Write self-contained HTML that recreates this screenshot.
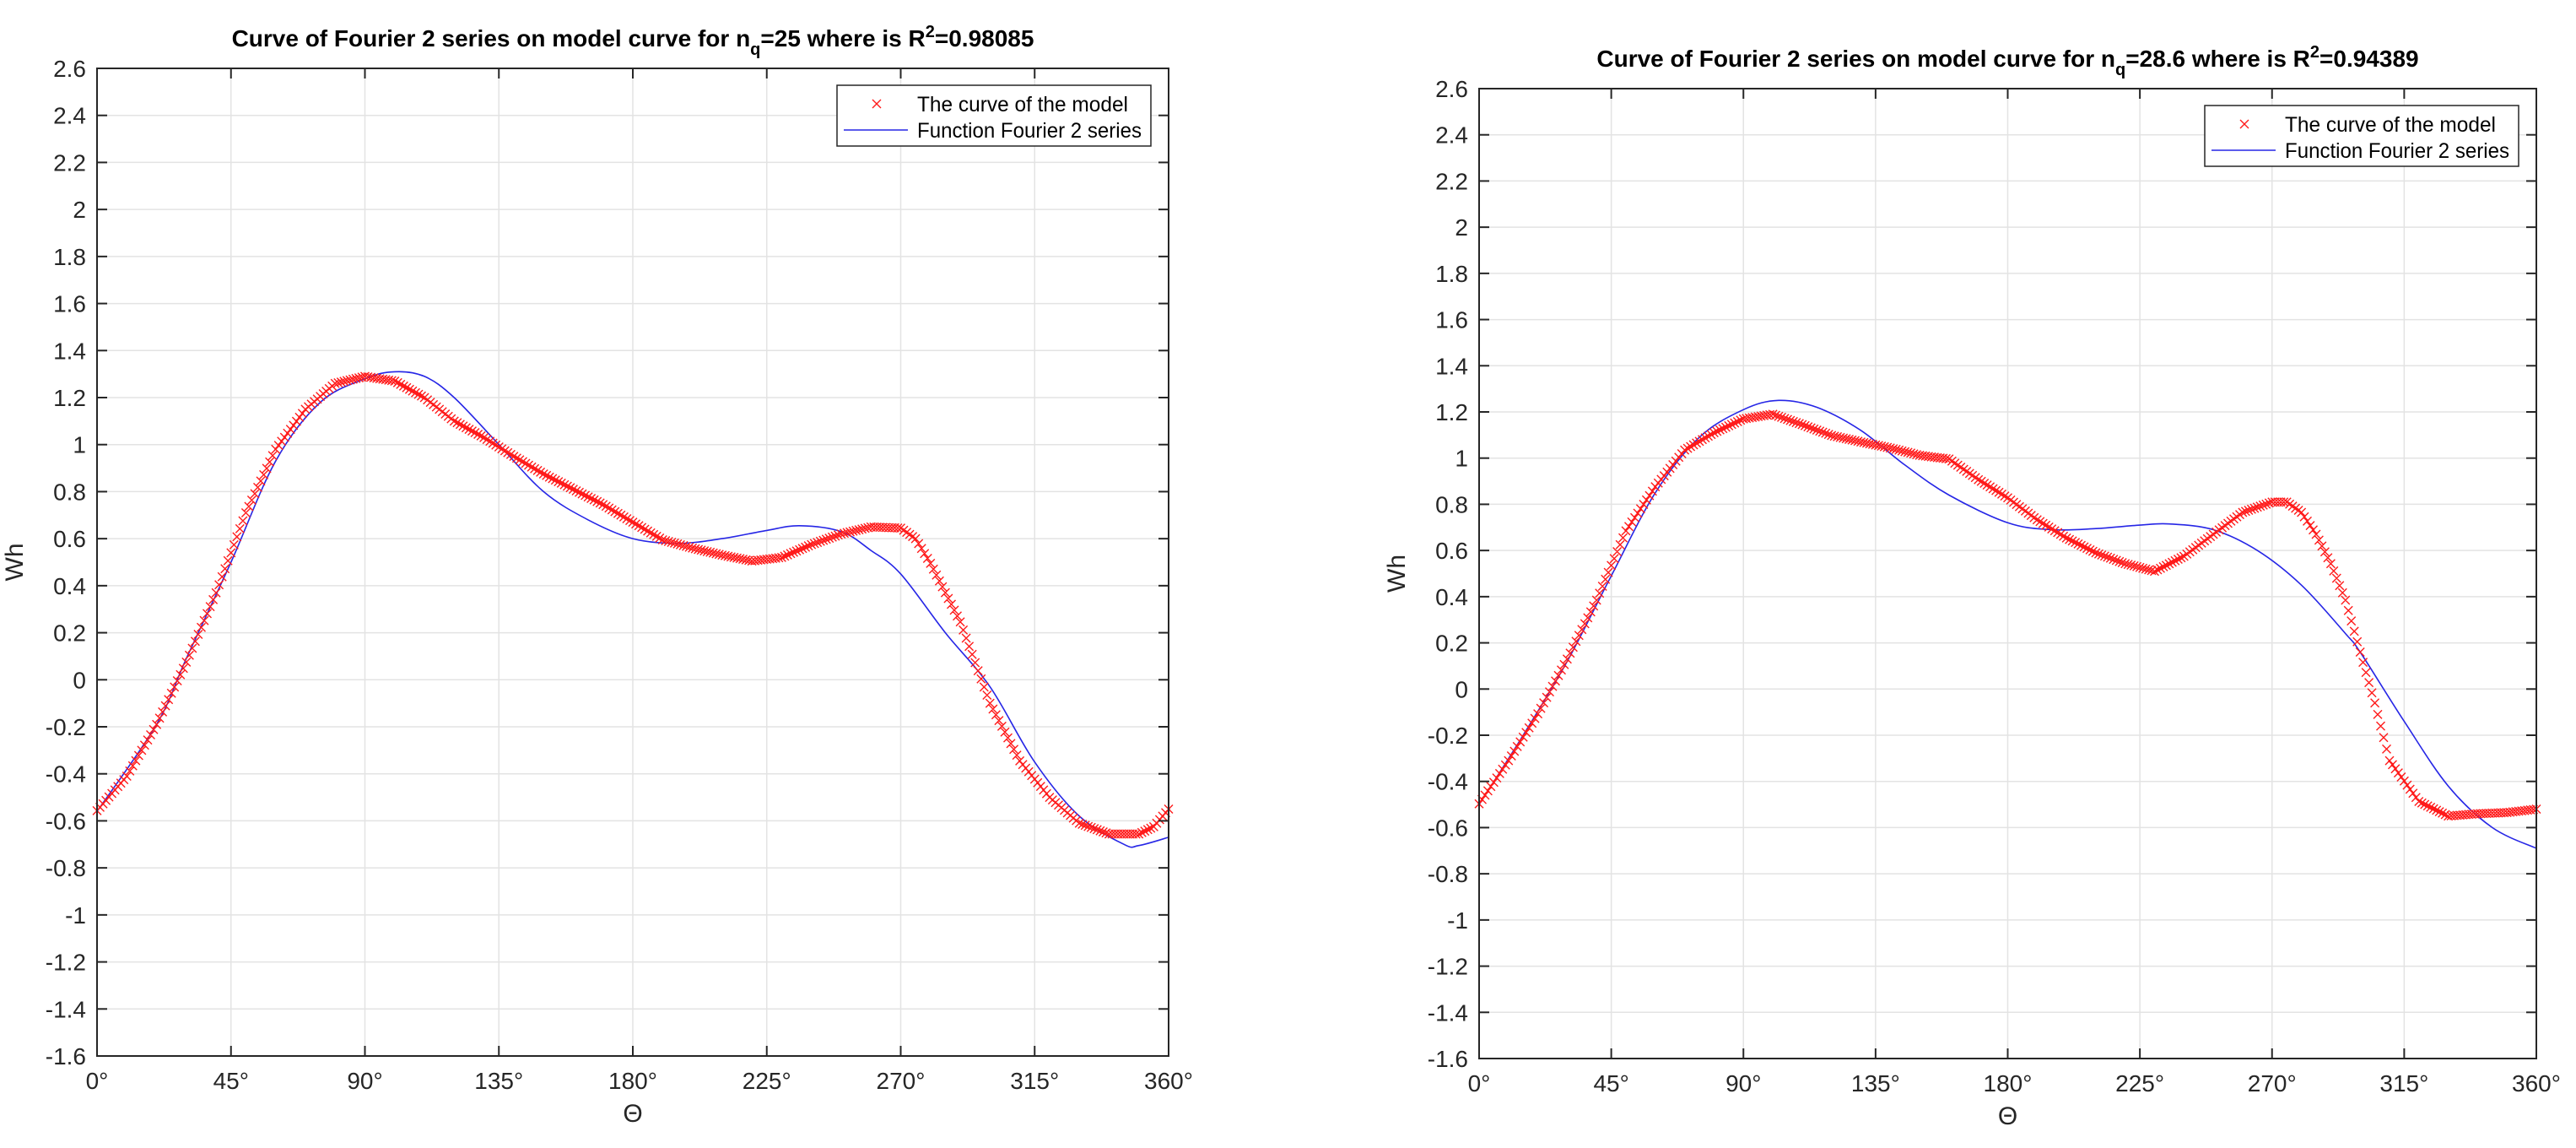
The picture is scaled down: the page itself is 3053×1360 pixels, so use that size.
<!DOCTYPE html>
<html><head><meta charset="utf-8"><style>
html,body{margin:0;padding:0;background:#fff;}
svg{display:block;font-family:"Liberation Sans",Arial,sans-serif;}
</style></head><body>
<svg id="fig" width="3053" height="1360" viewBox="0 0 3053 1360" xmlns="http://www.w3.org/2000/svg"></svg>
<script>
// ---- data: left chart (nq = 25) ----
const leftModelDeg = [0,10,20,30,40,50,60,70,80,90,100,110,120,130,140,150,160,170,180,190,200,210,220,230,240,250,260,270,275,280,290,300,310,320,330,340,350,355,360];
const leftModelVal = [-0.557,-0.41,-0.19,0.075,0.37,0.71,0.98,1.15,1.26,1.29,1.27,1.2,1.1,1.03,0.95,0.875,0.81,0.745,0.67,0.595,0.56,0.53,0.505,0.52,0.575,0.62,0.65,0.645,0.6,0.495,0.246,-0.1,-0.345,-0.5,-0.61,-0.656,-0.656,-0.625,-0.55];
const leftFitDeg = [0,20,30,45,60,75,90,100,110,120,135,150,165,180,195,210,225,236,250,260,270,285,300,315,330,345,350,360];
const leftFitVal = [-0.56,-0.19,0.09,0.5,0.93,1.18,1.28,1.31,1.29,1.2,1.0,0.8,0.68,0.6,0.58,0.6,0.635,0.655,0.63,0.55,0.45,0.2,-0.03,-0.35,-0.58,-0.7,-0.705,-0.67];
// ---- data: right chart (nq = 28.6) ----
const rightModelDeg = [0,10,20,30,40,50,60,70,80,90,100,110,120,130,140,150,160,170,180,190,200,210,220,230,240,250,260,270,275,280,285,290,295,300,305,310,320,330,340,350,360];
const rightModelVal = [-0.497,-0.31,-0.107,0.13,0.385,0.685,0.876,1.035,1.11,1.17,1.19,1.145,1.098,1.07,1.044,1.012,0.996,0.907,0.828,0.733,0.654,0.59,0.543,0.51,0.575,0.67,0.765,0.81,0.81,0.765,0.67,0.543,0.385,0.16,-0.06,-0.31,-0.487,-0.55,-0.54,-0.535,-0.52];
const rightFitDeg = [0,15,30,45,60,75,90,102,115,130,145,160,180,195,210,225,235,250,265,280,295,300,315,330,345,360];
const rightFitVal = [-0.5,-0.2,0.12,0.49,0.85,1.09,1.21,1.25,1.22,1.12,0.97,0.84,0.72,0.69,0.695,0.71,0.715,0.69,0.6,0.45,0.24,0.16,-0.14,-0.42,-0.6,-0.69];
// ---- tick labels ----
const xTicks = [0,45,90,135,180,225,270,315,360];
const yTicks = [2.6,2.4,2.2,2,1.8,1.6,1.4,1.2,1,0.8,0.6,0.4,0.2,0,-0.2,-0.4,-0.6,-0.8,-1,-1.2,-1.4,-1.6];
const legendLabels = ["The curve of the model","Function Fourier 2 series"];

const NS="http://www.w3.org/2000/svg";
const svg=document.getElementById('fig');
function mk(tag,attrs,parent){const e=document.createElementNS(NS,tag);for(const k in attrs)e.setAttribute(k,attrs[k]);(parent||svg).appendChild(e);return e;}

function smoothPath(p){
  let d=`M${p[0][0].toFixed(1)} ${p[0][1].toFixed(1)}`;
  for(let i=0;i<p.length-1;i++){
    const p0=p[Math.max(0,i-1)],p1=p[i],p2=p[i+1],p3=p[Math.min(p.length-1,i+2)];
    const c1=[p1[0]+(p2[0]-p0[0])/6,p1[1]+(p2[1]-p0[1])/6];
    const c2=[p2[0]-(p3[0]-p1[0])/6,p2[1]-(p3[1]-p1[1])/6];
    d+=`C${c1[0].toFixed(1)} ${c1[1].toFixed(1)} ${c2[0].toFixed(1)} ${c2[1].toFixed(1)} ${p2[0].toFixed(1)} ${p2[1].toFixed(1)}`;
  }
  return d;
}

function drawChart(cfg){
  const g=mk('g',{});
  
  
  const L=cfg.L,R=cfg.R,T=cfg.T,B=cfg.B;
  const xs=d=>L+(d-0)/(360-0)*(R-L);
  const ys=v=>T+(2.6-v)/(2.6-(-1.6))*(B-T);
  xTicks.forEach(t=>{const l=mk('line',{x1:xs(t),x2:xs(t),y1:T,y2:B,stroke:'#e3e3e3','stroke-width':1.5},g);
    });
  yTicks.forEach(t=>{const l=mk('line',{x1:L,x2:R,y1:ys(t),y2:ys(t),stroke:'#e3e3e3','stroke-width':1.5},g);
    });
  const fpts=cfg.fitDeg.map((d,i)=>[xs(d),ys(cfg.fitVal[i])]);
  const fl=mk('path',{d:smoothPath(fpts),fill:'none',stroke:'#2626e6','stroke-width':1.6,'stroke-linejoin':'round'},g);
  
  
  const mg=mk('g',{stroke:'#ff1a1a','stroke-width':1.4,fill:'none'},g);
  
  
  let pts='';
  const s=5;
  const addX=(x,y)=>{pts+=`M${(x-s).toFixed(1)} ${(y-s).toFixed(1)}L${(x+s).toFixed(1)} ${(y+s).toFixed(1)}M${(x-s).toFixed(1)} ${(y+s).toFixed(1)}L${(x+s).toFixed(1)} ${(y-s).toFixed(1)}`;};
  for(let i=0;i<cfg.modelDeg.length;i++){
    const x0=xs(cfg.modelDeg[i]),y0=ys(cfg.modelVal[i]);
    addX(x0,y0);
    if(i<cfg.modelDeg.length-1){
      const x1=xs(cfg.modelDeg[i+1]),y1=ys(cfg.modelVal[i+1]);
      const n=Math.max(1,Math.round((cfg.modelDeg[i+1]-cfg.modelDeg[i])));
      for(let k=1;k<n;k++){addX(x0+(x1-x0)*k/n,y0+(y1-y0)*k/n);}
    }
  }
  mk('path',{d:pts},mg);
  const box=mk('rect',{x:L,y:T,width:R-L,height:B-T,fill:'none',stroke:'#262626','stroke-width':2},g);
  
  
  xTicks.forEach(t=>{
    mk('line',{x1:xs(t),x2:xs(t),y1:B,y2:B-12,stroke:'#262626','stroke-width':2},g);
    mk('line',{x1:xs(t),x2:xs(t),y1:T,y2:T+12,stroke:'#262626','stroke-width':2},g);
    const tx=mk('text',{x:xs(t),y:B+39,'font-size':28,fill:'#262626','text-anchor':'middle'},g);
    tx.textContent=t+'°';
    
    
  });
  yTicks.forEach(t=>{
    mk('line',{x1:L,x2:L+12,y1:ys(t),y2:ys(t),stroke:'#262626','stroke-width':2},g);
    mk('line',{x1:R,x2:R-12,y1:ys(t),y2:ys(t),stroke:'#262626','stroke-width':2},g);
    const ty=mk('text',{x:L-13,y:ys(t)+10,'font-size':28,fill:'#262626','text-anchor':'end'},g);
    ty.textContent=String(t);
    
    
  });
  const xt=mk('text',{x:(L+R)/2,y:B+78,'font-size':30,fill:'#262626','text-anchor':'middle'},g);
  xt.textContent='Θ';
  
  
  const yx=L-88,yy=(T+B)/2;
  const yt=mk('text',{x:yx,y:yy,'font-size':30,fill:'#262626','text-anchor':'middle',transform:`rotate(-90 ${yx} ${yy})`},g);
  yt.textContent='Wh';
  
  
  const ti=mk('text',{x:(L+R)/2,y:T-26,'font-size':28,'font-weight':'bold',fill:'#000','text-anchor':'middle'},g);
  
  
  const t1=mk('tspan',{},ti);t1.textContent='Curve of Fourier 2 series on model curve for n';
  const t2=mk('tspan',{dy:10,'font-size':20},ti);t2.textContent='q';
  const t3=mk('tspan',{dy:-10},ti);t3.textContent='='+cfg.nq+' where is R';
  const t4=mk('tspan',{dy:-11,'font-size':20},ti);t4.textContent='2';
  const t5=mk('tspan',{dy:11},ti);t5.textContent='='+cfg.r2;
  const lw=372,lh=72,lx=R-21-lw,ly=T+20;
  const lg=mk('g',{},g);
  
  
  mk('rect',{x:lx,y:ly,width:lw,height:lh,fill:'#fff',stroke:'#262626','stroke-width':1.5},lg);
  const e1=mk('g',{},lg);
  
  
  mk('path',{d:`M${lx+42} ${ly+17}L${lx+52} ${ly+27}M${lx+42} ${ly+27}L${lx+52} ${ly+17}`,stroke:'#ff1a1a','stroke-width':1.4},e1);
  const l1=mk('text',{x:lx+95,y:ly+31,'font-size':25,fill:'#000',textLength:250,lengthAdjust:'spacingAndGlyphs'},e1);l1.textContent=legendLabels[0];
  const e2=mk('g',{},lg);
  
  
  mk('line',{x1:lx+8,x2:lx+84,y1:ly+53,y2:ly+53,stroke:'#2626e6','stroke-width':1.6},e2);
  const l2=mk('text',{x:lx+95,y:ly+62,'font-size':25,fill:'#000',textLength:266,lengthAdjust:'spacingAndGlyphs'},e2);l2.textContent=legendLabels[1];
}
drawChart({name:'chart-nq-25',L:115,R:1385,T:81,B:1251,nq:'25',r2:'0.98085',modelDeg:leftModelDeg,modelVal:leftModelVal,fitDeg:leftFitDeg,fitVal:leftFitVal});
drawChart({name:'chart-nq-28-6',L:1753,R:3006,T:105,B:1254,nq:'28.6',r2:'0.94389',modelDeg:rightModelDeg,modelVal:rightModelVal,fitDeg:rightFitDeg,fitVal:rightFitVal});
</script>
</body></html>
